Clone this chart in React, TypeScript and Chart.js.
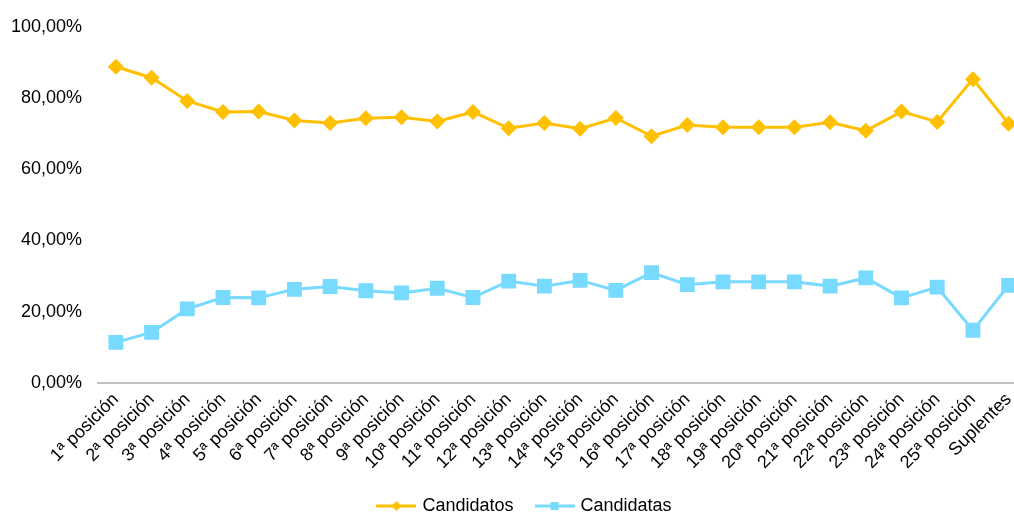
import React, { useEffect, useRef } from "react";
import { Chart, registerables } from "chart.js";

Chart.register(...registerables);

const categories = [
  "1ª posición", "2ª posición", "3ª posición", "4ª posición", "5ª posición",
  "6ª posición", "7ª posición", "8ª posición", "9ª posición", "10ª posición",
  "11ª posición", "12ª posición", "13ª posición", "14ª posición", "15ª posición",
  "16ª posición", "17ª posición", "18ª posición", "19ª posición", "20ª posición",
  "21ª posición", "22ª posición", "23ª posición", "24ª posición", "25ª posición",
  "Suplentes",
];

const candidatos = [
  88.8, 85.7, 79.2, 76.1, 76.2, 73.7, 73.0, 74.3, 74.6, 73.4,
  76.1, 71.5, 73.0, 71.4, 74.4, 69.3, 72.4, 71.8, 71.8, 71.8,
  73.2, 70.8, 76.2, 73.3, 85.3, 72.8,
];

const candidatas = [
  11.4, 14.2, 20.8, 24.0, 23.9, 26.3, 27.1, 25.9, 25.3, 26.6,
  24.0, 28.6, 27.2, 28.8, 26.0, 31.0, 27.6, 28.4, 28.4, 28.4,
  27.2, 29.5, 23.9, 26.9, 14.8, 27.4,
];

const yTicks = [0, 20, 40, 60, 80, 100];

const GOLD = "#FFC000";
const BLUE = "#78DAFF";

function legendIcon(color: string, shape: "diamond" | "square") {
  const c = document.createElement("canvas");
  c.width = 40;
  c.height = 12;
  const ctx = c.getContext("2d")!;
  ctx.strokeStyle = color;
  ctx.lineWidth = 3;
  ctx.beginPath();
  ctx.moveTo(0, 6);
  ctx.lineTo(40, 6);
  ctx.stroke();
  ctx.fillStyle = color;
  if (shape === "diamond") {
    ctx.beginPath();
    ctx.moveTo(20, 1);
    ctx.lineTo(25, 6);
    ctx.lineTo(20, 11);
    ctx.lineTo(15, 6);
    ctx.closePath();
    ctx.fill();
  } else {
    ctx.fillRect(16, 2, 8, 8);
  }
  return c;
}

const legendShift = {
  id: "legendShift",
  afterLayout(chart: any) {
    const lg = chart.legend;
    if (lg) {
      lg.left += 7;
      lg.right += 7;
    }
  },
};

export default function App() {
  const ref = useRef<HTMLCanvasElement | null>(null);

  useEffect(() => {
    if (!ref.current) return;
    const icons = [legendIcon(GOLD, "diamond"), legendIcon(BLUE, "square")];
    const font = { family: "'Liberation Sans', Arial, sans-serif", size: 18 };
    const chart = new Chart(ref.current, {
      type: "line",
      data: {
        labels: categories,
        datasets: [
          {
            label: "Candidatos",
            data: candidatos,
            borderColor: GOLD,
            backgroundColor: GOLD,
            borderWidth: 3,
            pointStyle: "rectRot",
            pointRadius: 8,
            pointBorderWidth: 0,
            pointBackgroundColor: GOLD,
            tension: 0,
          },
          {
            label: "Candidatas",
            data: candidatas,
            borderColor: BLUE,
            backgroundColor: BLUE,
            borderWidth: 3,
            pointStyle: "rect",
            pointRadius: 10.5,
            pointBorderWidth: 0,
            pointBackgroundColor: BLUE,
            tension: 0,
          },
        ],
      },
      plugins: [legendShift],
      options: {
        animation: false,
        responsive: true,
        maintainAspectRatio: false,
        layout: { padding: { left: 0, right: 0, top: 17, bottom: 0 } },
        scales: {
          x: {
            offset: true,
            grid: { display: false, drawTicks: false },
            border: { display: true, color: "#BFBFBF", width: 2 },
            ticks: {
              color: "#000",
              font,
              minRotation: 45,
              maxRotation: 45,
              autoSkip: false,
              padding: 6,
            },
            afterFit: (s: any) => {
              s.height = 90;
            },
          },
          y: {
            min: 0,
            max: 100,
            grid: { display: false, drawTicks: false },
            border: { display: false },
            afterBuildTicks: (s: any) => {
              s.ticks = yTicks.map((v) => ({ value: v }));
            },
            ticks: {
              color: "#000",
              font,
              padding: 16,
              callback: (v: any) => Number(v).toFixed(2).replace(".", ",") + "%",
            },
            afterFit: (s: any) => {
              s.width = 98;
            },
          },
        },
        plugins: {
          tooltip: { enabled: false },
          legend: {
            position: "bottom",
            labels: {
              usePointStyle: true,
              pointStyleWidth: 34,
              padding: 24,
              color: "#000",
              font,
              generateLabels: (c: any) => {
                const items = Chart.defaults.plugins.legend.labels.generateLabels(c);
                return items.map((it: any, i: number) => ({ ...it, pointStyle: icons[i] }));
              },
            },
          },
        },
      },
    });
    return () => chart.destroy();
  }, []);

  return (
    <div style={{ position: "fixed", left: 0, top: 0, width: 1014, height: 514, overflow: "hidden", background: "#fff" }}>
      <div style={{ position: "relative", width: 1037, height: 525 }}>
        <canvas ref={ref} />
      </div>
    </div>
  );
}
